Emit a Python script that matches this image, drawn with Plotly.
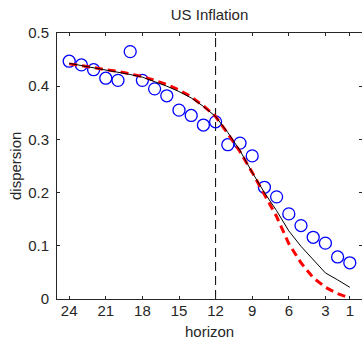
import plotly.graph_objects as go

horizon = list(range(24, 0, -1))
data_circles = [0.447, 0.440, 0.431, 0.415, 0.411, 0.465, 0.411, 0.395, 0.382, 0.355,
                0.345, 0.327, 0.333, 0.290, 0.293, 0.269, 0.210, 0.192, 0.160, 0.138,
                0.116, 0.105, 0.079, 0.068]
model_black = [0.443, 0.439, 0.435, 0.431, 0.427, 0.422, 0.417, 0.409, 0.400, 0.390,
               0.378, 0.362, 0.343, 0.313, 0.279, 0.238, 0.200, 0.166, 0.128, 0.099,
               0.074, 0.049, 0.036, 0.022]
model_red = [0.442, 0.439, 0.435, 0.431, 0.428, 0.423, 0.418, 0.411, 0.403, 0.393,
             0.380, 0.363, 0.343, 0.311, 0.277, 0.238, 0.197, 0.155, 0.104, 0.068,
             0.040, 0.022, 0.010, 0.002]
vline_x = [12, 12]
vline_y = [0, 0.5]
x_ticks = [24, 21, 18, 15, 12, 9, 6, 3, 1]
y_ticks = [0, 0.1, 0.2, 0.3, 0.4, 0.5]
y_ticklabels = ["0", "0.1", "0.2", "0.3", "0.4", "0.5"]

FONT = "Liberation Sans, Arial, sans-serif"
TXT = "#262626"

fig = go.Figure()
fig.add_trace(go.Scatter(x=vline_x, y=vline_y, mode="lines",
                         line=dict(color="black", width=1, dash="9px,5px"),
                         hoverinfo="skip", showlegend=False))
fig.add_trace(go.Scatter(x=horizon, y=data_circles, mode="markers",
                         marker=dict(symbol="circle-open", size=12, color="#0000ff",
                                     line=dict(width=1.3, color="#0000ff")),
                         showlegend=False))
fig.add_trace(go.Scatter(x=horizon, y=model_red, mode="lines",
                         line=dict(color="#ff0000", width=3, dash="8px,5px"),
                         showlegend=False))
fig.add_trace(go.Scatter(x=horizon, y=model_black, mode="lines",
                         line=dict(color="black", width=1),
                         showlegend=False))

fig.update_layout(
    width=362, height=339,
    margin=dict(l=57, r=0, t=33, b=40),
    plot_bgcolor="white", paper_bgcolor="white",
    font=dict(family=FONT, size=15, color=TXT),
    title=dict(text="US Inflation", x=0.5, xref="paper", xanchor="center",
               y=1 - 15 / 339, yanchor="middle", font=dict(size=15, color=TXT)),
    annotations=[
        dict(text="horizon", xref="paper", yref="paper", x=0.5, y=(299 - 331) / 266,
             xanchor="center", yanchor="middle", showarrow=False,
             font=dict(size=15, color=TXT)),
        dict(text="dispersion", xref="paper", yref="paper", x=(15 - 57) / 305, y=0.5,
             xanchor="center", yanchor="middle", showarrow=False, textangle=-90,
             font=dict(size=15, color=TXT)),
    ],
)
fig.update_xaxes(range=[25, 0], tickvals=x_ticks, ticks="inside", ticklen=3,
                 tickcolor=TXT, showline=True, linecolor=TXT, linewidth=1,
                 mirror="ticks", showgrid=False, zeroline=False,
                 ticklabelstandoff=-2)
fig.update_yaxes(range=[0, 0.5], tickvals=y_ticks, ticktext=y_ticklabels,
                 ticks="inside", ticklen=3, tickcolor=TXT,
                 showline=True, linecolor=TXT, linewidth=1, mirror="ticks",
                 showgrid=False, zeroline=False,
                 ticklabelstandoff=4)

fig.write_html("out.html")
